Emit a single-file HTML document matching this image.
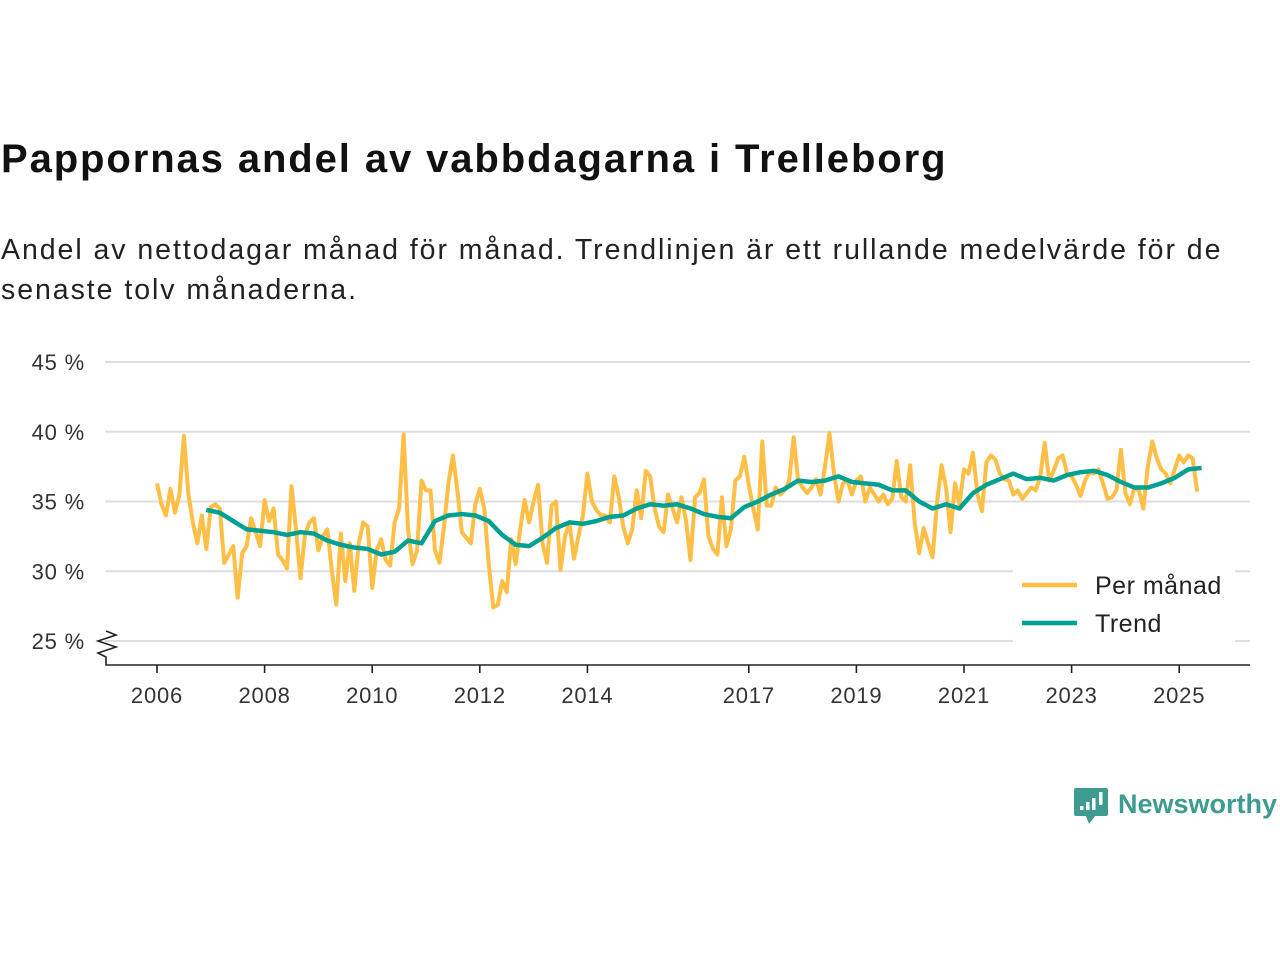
<!DOCTYPE html>
<html><head><meta charset="utf-8"><style>
body{margin:0;background:#fff;width:1280px;height:960px;overflow:hidden;font-family:"Liberation Sans",sans-serif;}
#title{position:absolute;left:1px;top:137px;font-size:40px;font-weight:bold;color:#111;letter-spacing:1.9px;white-space:nowrap;}
#sub{position:absolute;left:1px;top:230px;font-size:28.5px;line-height:40px;color:#222;width:1240px;letter-spacing:1.95px;}
svg{position:absolute;left:0;top:0;}
</style></head><body>
<div id="title">Pappornas andel av vabbdagarna i Trelleborg</div>
<div id="sub">Andel av nettodagar månad för månad. Trendlinjen är ett rullande medelvärde för de senaste tolv månaderna.</div>
<svg id="chart" width="1280" height="960"></svg>
<script>
const monthly=[36.3,34.8,34.0,35.9,34.2,35.5,39.7,35.5,33.5,32.0,34.0,31.6,
34.6,34.8,34.5,30.6,31.2,31.8,28.1,31.3,31.8,33.8,32.8,31.8,
35.1,33.6,34.5,31.2,30.8,30.2,36.1,33.0,29.5,32.6,33.5,33.8,
31.5,32.5,33.0,30.0,27.6,32.7,29.3,32.0,28.6,32.0,33.5,33.2,
28.8,31.5,32.3,30.8,30.4,33.5,34.5,39.8,33.0,30.5,31.5,36.5,
35.8,35.8,31.5,30.6,33.2,36.3,38.3,35.8,32.8,32.4,32.0,34.8,
35.9,34.5,30.5,27.4,27.6,29.3,28.5,32.3,30.5,33.0,35.1,33.5,
35.0,36.2,32.0,30.6,34.7,35.0,30.1,32.5,33.5,30.9,32.5,34.0,
37.0,35.0,34.4,34.0,34.0,33.5,36.8,35.3,33.2,32.0,33.0,35.8,
33.8,37.2,36.8,34.5,33.2,32.8,35.5,34.5,33.5,35.3,33.6,30.8,
35.3,35.6,36.6,32.5,31.6,31.2,35.3,31.8,33.0,36.5,36.8,38.2,
36.2,34.5,33.0,39.3,34.7,34.7,36.0,35.5,35.8,36.5,39.6,36.5,
36.0,35.6,36.0,36.6,35.5,37.5,39.9,37.0,35.0,36.3,36.5,35.5,
36.5,36.8,35.0,36.0,35.5,35.0,35.5,34.8,35.2,37.9,35.3,35.0,
37.6,33.5,31.3,33.1,32.0,31.0,35.0,37.6,36.0,32.8,36.3,34.8,
37.3,37.0,38.5,35.5,34.3,37.8,38.3,38.0,37.0,36.6,36.5,35.5,
35.8,35.2,35.6,36.0,35.8,36.8,39.2,36.5,37.2,38.1,38.3,37.0,
36.8,36.2,35.4,36.5,37.1,37.0,37.3,36.3,35.2,35.3,35.8,38.7,
35.6,34.8,36.0,35.8,34.5,37.5,39.3,38.1,37.3,37.0,36.3,37.3,
38.3,37.8,38.3,38.1,35.7];
// trend, quarterly samples starting Dec 2006
const trend=[34.4,34.2,33.6,33.0,32.9,32.8,32.6,32.8,32.7,32.2,31.9,31.7,31.6,31.2,31.4,32.2,32.0,
33.6,34.0,34.1,34.0,33.6,32.6,31.9,31.8,32.4,33.1,33.5,33.4,33.6,33.9,34.0,34.5,34.8,34.7,34.8,34.5,
34.1,33.9,33.8,34.6,35.0,35.5,35.9,36.5,36.4,36.5,36.8,36.4,36.3,36.2,35.8,35.8,35.0,34.5,34.8,34.5,
35.6,36.2,36.6,37.0,36.6,36.7,36.5,36.9,37.1,37.2,36.9,36.4,36.0,36.0,36.3,36.7,37.3,37.4];
const trendStart=11, trendStep=3;
const yTicks=[25,30,35,40,45];
const xTicks=[2006,2008,2010,2012,2014,2017,2019,2021,2023,2025];
const NS='http://www.w3.org/2000/svg';
const svg=document.getElementById('chart');
const X0=157,PXY=53.8;
const xm=i=>X0+i*PXY/12;
const xy=yr=>X0+(yr-2006)*PXY;
const y=v=>641-(v-25)*13.95;
function mk(tag,attrs){const e=document.createElementNS(NS,tag);for(const k in attrs)e.setAttribute(k,attrs[k]);svg.appendChild(e);return e;}
yTicks.forEach(t=>{
 const g=mk('line',{x1:105,x2:1250,y1:y(t),y2:y(t),stroke:'#dddddd','stroke-width':2});
 
 
 const tx=mk('text',{x:85,y:y(t)+8,'text-anchor':'end','font-size':22,fill:'#333','letter-spacing':0.8});
 tx.textContent=t+' %';
 
 
});
const ax=mk('path',{d:'M106 631 L116 635 L98 641 L116 647 L98 653 L106 657 L106 665 L1250 665',fill:'none',stroke:'#222','stroke-width':1.6});


xTicks.forEach(t=>{
 const l=mk('line',{x1:xy(t),x2:xy(t),y1:665,y2:673,stroke:'#222','stroke-width':1.6});
 
 
 const tx=mk('text',{x:xy(t),y:703,'text-anchor':'middle','font-size':22,fill:'#333','letter-spacing':0.8});
 tx.textContent=t;
 
 
});
const pm=mk('polyline',{points:monthly.map((v,i)=>xm(i)+','+y(v)).join(' '),fill:'none',stroke:'#ffbe45','stroke-width':4,'stroke-linejoin':'round'});


const tr=mk('polyline',{points:trend.map((v,i)=>xm(trendStart+i*trendStep)+','+y(v)).join(' '),fill:'none',stroke:'#00a092','stroke-width':4.5,'stroke-linejoin':'round'});


const lb=mk('rect',{x:1013,y:568,width:222,height:74,fill:'#fff'});


[['Per månad','#ffbe45',585],['Trend','#00a092',623]].forEach(([n,c,yy])=>{
 const l=mk('line',{x1:1022,x2:1077,y1:yy,y2:yy,stroke:c,'stroke-width':4.5});
 
 
 const t=mk('text',{x:1095,y:yy+9,'font-size':25,fill:'#222','letter-spacing':0.5});
 t.textContent=n;
 
 
});
const lg=mk('path',{d:'M1076 788 h30 a2 2 0 0 1 2 2 v24 a2 2 0 0 1 -2 2 h-11 l-6 8 l-3 -8 h-10 a2 2 0 0 1 -2 -2 v-24 a2 2 0 0 1 2 -2z',fill:'#3d9b8f'});


[[1080,806,4],[1086,802,8],[1092,798,12]].forEach(([a,b,h])=>{const r=mk('rect',{x:a,y:b,width:3.5,height:h,fill:'#fff'});});
const r2=mk('rect',{x:1099,y:792,width:3.5,height:13,fill:'#fff'});


const lt=mk('text',{x:1118,y:813,'font-size':27,'font-weight':'bold',fill:'#3d9b8f'});
lt.textContent='Newsworthy';


</script>
</body></html>
